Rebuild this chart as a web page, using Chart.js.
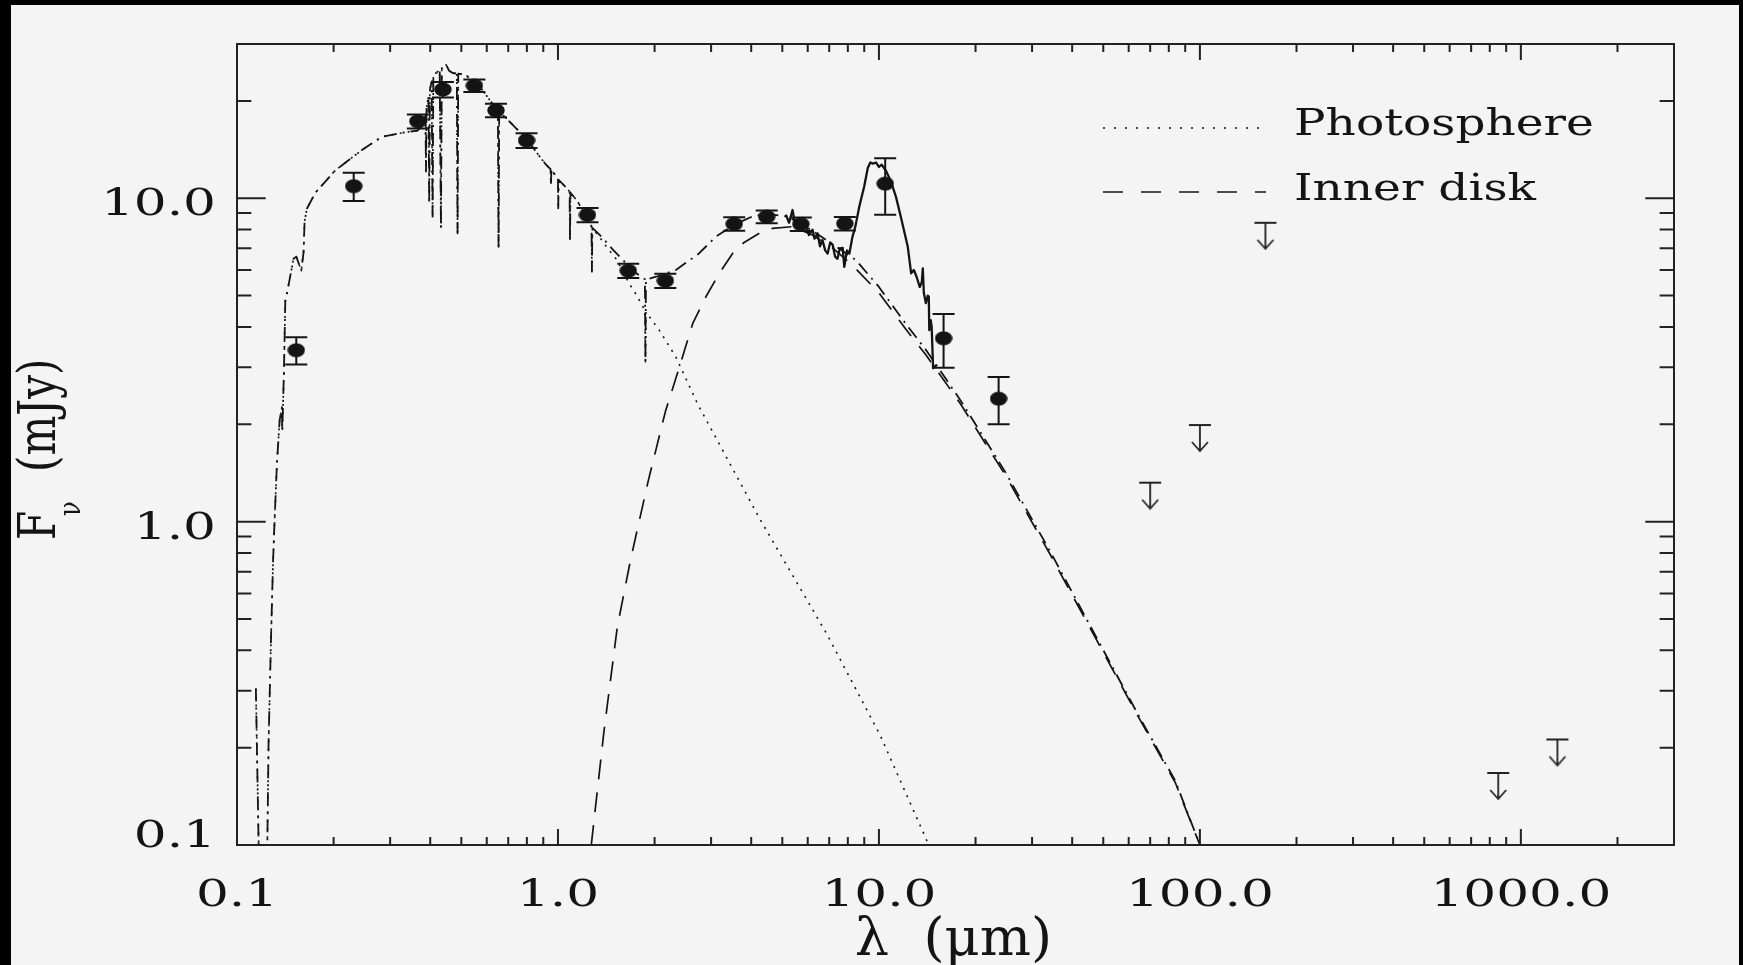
<!DOCTYPE html>
<html>
<head>
<meta charset="utf-8">
<title>Spectral energy distribution</title>
<script src="https://cdn.jsdelivr.net/npm/chart.js@4.4.1/dist/chart.umd.min.js"></script>
<style>
  html, body { margin: 0; padding: 0; background: #000; }
  canvas { display: block; }
</style>
</head>
<body>
<canvas id="sed" width="1743" height="965"></canvas>
<script>
// wavelength in micron, flux density in mJy

// stellar photosphere model
const photLam = [0.1145, 0.1168, 0.120, 0.1243, 0.1254, 0.1276, 0.1295, 0.1309, 0.1332, 0.1358, 0.138, 0.1384, 0.140, 0.1414,
  0.1448, 0.150, 0.153, 0.1586, 0.1612, 0.1624, 0.1652, 0.1754, 0.2024, 0.245, 0.283, 0.334, 0.365, 0.375, 0.383,
  0.3865, 0.388, 0.3895, 0.395, 0.397, 0.399, 0.404, 0.4068, 0.409, 0.417, 0.428, 0.432, 0.4345, 0.441, 0.448, 0.458,
  0.470, 0.484, 0.4866, 0.489, 0.517, 0.550, 0.582, 0.625, 0.650, 0.653, 0.656, 0.705, 0.7575, 0.834, 0.875, 0.918,
  0.948, 0.951, 0.954, 0.985, 1.000, 1.002, 1.005, 1.05, 1.087, 1.09, 1.094, 1.15, 1.222, 1.272, 1.276, 1.280,
  1.345, 1.42, 1.516, 1.60, 1.667, 1.75, 1.814, 1.866, 1.873, 1.88, 2.068, 2.33, 2.724, 4.26, 6.9, 10.1, 14.3];
const photFnu = [0.305, 0.10, 0.07, 0.10, 0.205, 0.43, 0.75, 1.0, 1.52, 2.06, 2.26, 1.91, 2.87, 4.8,
  5.4, 6.5, 6.6, 5.98, 6.8, 8.5, 9.3, 10.4, 12.2, 14.1, 15.5, 16.0, 16.2, 16.6, 17.8,
  18.3, 12.1, 19.0, 20.6, 9.65, 21.6, 23.0, 8.77, 23.8, 24.4, 25.0, 8.07, 25.2, 25.6, 25.9, 24.8,
  24.4, 24.3, 7.79, 24.3, 24.1, 22.5, 21.6, 19.6, 18.8, 7.08, 18.6, 17.3, 16.1, 14.4, 13.5, 12.7,
  12.3, 11.0, 12.3, 11.7, 11.5, 9.31, 11.4, 10.9, 10.5, 7.43, 10.4, 9.8, 8.77, 8.2, 5.93, 8.1,
  7.6, 7.05, 6.5, 5.9, 5.45, 5.05, 4.73, 4.5, 3.12, 4.45, 3.91, 3.23, 2.31, 1.017, 0.447, 0.218, 0.1];

// inner disk emission
const diskLam = [1.27, 1.39, 1.53, 1.685, 1.915, 2.164, 2.39, 2.63, 2.89, 3.18, 3.5, 3.8, 4.24, 4.66, 5.38, 6.2, 7.2,
  8.28, 10.0, 12.1, 14.0, 16.1, 17.96, 24.8, 34.2, 47.1, 64.9, 83.8, 100];
const diskFnu = [0.1, 0.2235, 0.471, 0.766, 1.349, 2.2, 3.01, 4.10, 4.96, 5.86, 6.75, 7.3, 7.8, 8.07, 8.17, 7.7, 7.0,
  6.2, 5.1, 3.95, 3.28, 2.7, 2.31, 1.39, 0.79, 0.44, 0.245, 0.156, 0.1];

// photosphere + disk (same as photosphere below 1.28 micron)
const totalLam = [0.1145, 0.1168, 0.120, 0.1243, 0.1254, 0.1276, 0.1295, 0.1309, 0.1332, 0.1358, 0.138, 0.1384, 0.140, 0.1414,
  0.1448, 0.150, 0.153, 0.1586, 0.1612, 0.1624, 0.1652, 0.1754, 0.2024, 0.245, 0.283, 0.334, 0.365, 0.375, 0.383,
  0.3865, 0.388, 0.3895, 0.395, 0.397, 0.399, 0.404, 0.4068, 0.409, 0.417, 0.428, 0.432, 0.4345, 0.441, 0.448, 0.458,
  0.470, 0.484, 0.4866, 0.489, 0.517, 0.550, 0.582, 0.625, 0.650, 0.653, 0.656, 0.705, 0.7575, 0.834, 0.875, 0.918,
  0.948, 0.951, 0.954, 0.985, 1.000, 1.002, 1.005, 1.05, 1.087, 1.09, 1.094, 1.15, 1.222, 1.272, 1.276, 1.280,
  1.377, 1.48, 1.628, 1.72, 1.814, 1.866, 1.873, 1.88, 2.02, 2.33, 2.75, 3.1, 3.55, 4.0, 4.45, 5.13, 5.6, 6.5, 7.5,
  8.48, 10.0, 12.1, 14.0, 16.1, 17.96, 24.8, 34.2, 47.1, 64.9, 83.8, 100];
const totalFnu = [0.305, 0.10, 0.07, 0.10, 0.205, 0.43, 0.75, 1.0, 1.52, 2.06, 2.26, 1.91, 2.87, 4.8,
  5.4, 6.5, 6.6, 5.98, 6.8, 8.5, 9.3, 10.4, 12.2, 14.1, 15.5, 16.0, 16.2, 16.6, 17.8,
  18.3, 12.1, 19.0, 20.6, 9.65, 21.6, 23.0, 8.77, 23.8, 24.4, 25.0, 8.07, 25.2, 25.6, 25.9, 24.8,
  24.4, 24.3, 7.79, 24.3, 24.1, 22.5, 21.6, 19.6, 18.8, 7.08, 18.6, 17.3, 16.1, 14.4, 13.5, 12.7,
  12.3, 11.0, 12.3, 11.7, 11.5, 9.31, 11.4, 10.9, 10.5, 7.43, 10.4, 9.8, 8.77, 8.2, 5.93, 8.1,
  7.55, 6.95, 6.3, 5.95, 5.72, 5.62, 3.12, 5.6, 5.72, 6.0, 6.75, 7.6, 8.3, 8.75, 8.95, 8.8, 8.45, 7.7, 7.0,
  6.44, 5.32, 4.1, 3.4, 2.78, 2.37, 1.42, 0.807, 0.447, 0.248, 0.158, 0.1];

// IRS spectrum
const irsLam = [5.13, 5.25, 5.38, 5.5, 5.65, 5.78, 5.92, 6.05, 6.21, 6.3, 6.44, 6.55, 6.67, 6.8, 6.92, 7.05, 7.18, 7.3,
  7.43, 7.55, 7.71, 7.8, 7.95, 8.09, 8.27, 8.45, 8.68, 9.0, 9.23, 9.4, 9.58, 9.8, 10.0, 10.2, 10.5, 10.89, 11.3, 11.7,
  12.3, 12.6, 12.85, 13.1, 13.4, 13.6, 13.7, 13.8, 14.0, 14.2, 14.3, 14.35, 14.5, 14.6, 14.75, 15.1];
const irsFnu = [8.9, 8.4, 9.2, 8.2, 8.0, 8.7, 8.37, 7.7, 8.0, 7.5, 7.79, 7.1, 7.43, 6.9, 6.75, 7.3, 7.17, 6.6,
  6.5, 7.0, 7.02, 6.14, 6.9, 6.75, 7.6, 8.2, 9.4, 10.9, 12.4, 12.9, 12.8, 12.9, 12.5, 12.7, 12.2, 11.3, 10.1, 8.77,
  7.08, 5.86, 6.0, 5.72, 5.32, 5.5, 6.07, 5.1, 4.74, 5.0, 4.96, 3.91, 4.2, 4.0, 2.98, 3.05];

// photometry with 1-sigma errors
const obsLam = [0.153, 0.231, 0.366, 0.438, 0.549, 0.641, 0.798, 1.236, 1.656, 2.16, 3.54, 4.47, 5.71, 7.83, 10.46, 15.9, 23.6];
const obsFnu = [3.39, 10.9, 17.3, 21.7, 22.3, 18.7, 15.1, 8.88, 5.97, 5.56, 8.33, 8.77, 8.32, 8.35, 11.1, 3.69, 2.40];
const obsErr = [0.33, 1.1, 0.85, 1.2, 1.0, 0.9, 0.8, 0.45, 0.3, 0.28, 0.4, 0.4, 0.4, 0.4, 2.2, 0.7, 0.4];

// upper limits
const limLam = [70, 100, 160, 850, 1300];
const limFnu = [1.32, 1.99, 8.4, 0.167, 0.212];

// axes
const xRange = [0.1, 3000];
const yRange = [0.1, 30];
const xLabelled = [0.1, 1, 10, 100, 1000];
const xTickText = ["0.1", "1.0", "10.0", "100.0", "1000.0"];
const yLabelled = [0.1, 1, 10];
const yTickText = ["0.1", "1.0", "10.0"];

const INK = "#141414";
const SERIF = "'DejaVu Serif', 'Liberation Serif', serif";

function pts(xs, ys) {
  return xs.map((x, i) => ({ x: x, y: ys[i] }));
}

function decadeTicks(min, max) {
  const out = [];
  for (let e = Math.floor(Math.log10(min)); e <= Math.ceil(Math.log10(max)); e++) {
    for (let m = 1; m <= 9; m++) {
      const v = m * Math.pow(10, e);
      if (v >= min * 0.999 && v <= max * 1.001) out.push({ v: v, major: m === 1 });
    }
  }
  return out;
}

function dotMark() {
  const c = document.createElement("canvas");
  c.width = 18;
  c.height = 15;
  const g = c.getContext("2d");
  g.fillStyle = INK;
  g.beginPath();
  g.ellipse(9, 7.5, 8.7, 7, 0, 0, Math.PI * 2);
  g.fill();
  return c;
}

// bar on the value, arrow pointing down
function limitMark() {
  const c = document.createElement("canvas");
  c.width = 24;
  c.height = 56;
  const g = c.getContext("2d");
  g.strokeStyle = "#222";
  g.lineWidth = 1.8;
  g.beginPath();
  g.moveTo(1, 28); g.lineTo(23, 28);
  g.moveTo(12, 28); g.lineTo(12, 54);
  g.moveTo(4, 45); g.lineTo(12, 54); g.lineTo(20, 45);
  g.stroke();
  return c;
}

function stretchText(ctx, str, x, y, size, sx, align) {
  ctx.save();
  ctx.translate(x, y);
  ctx.scale(sx, 1);
  ctx.font = size + "px " + SERIF;
  ctx.textAlign = align;
  ctx.textBaseline = "alphabetic";
  ctx.fillStyle = INK;
  ctx.fillText(str, 0, 0);
  ctx.restore();
}

const paper = {
  id: "paper",
  beforeDraw(chart) {
    const c = chart.ctx;
    c.save();
    c.fillStyle = "#000";
    c.fillRect(0, 0, chart.width, chart.height);
    c.fillStyle = "#f4f4f4";
    c.fillRect(11, 5, 1728, 960);
    c.restore();
  }
};

const errorBars = {
  id: "errorBars",
  afterDatasetsDraw(chart) {
    const c = chart.ctx;
    const xs = chart.scales.x;
    const ys = chart.scales.y;
    c.save();
    c.strokeStyle = INK;
    c.lineWidth = 2;
    obsLam.forEach((lam, i) => {
      const px = xs.getPixelForValue(lam);
      const top = ys.getPixelForValue(obsFnu[i] + obsErr[i]);
      const bot = ys.getPixelForValue(obsFnu[i] - obsErr[i]);
      c.beginPath();
      c.moveTo(px, top); c.lineTo(px, bot);
      c.moveTo(px - 11, top); c.lineTo(px + 11, top);
      c.moveTo(px - 11, bot); c.lineTo(px + 11, bot);
      c.stroke();
    });
    c.restore();
  }
};

const frame = {
  id: "frame",
  afterDraw(chart) {
    const c = chart.ctx;
    const a = chart.chartArea;
    const xs = chart.scales.x;
    const ys = chart.scales.y;
    const w = a.right - a.left;
    const h = a.bottom - a.top;

    c.save();
    c.strokeStyle = "#222";
    c.lineWidth = 2;
    c.strokeRect(a.left, a.top, w, h);

    // inward ticks on all four sides, major = 2% of the opposite size
    c.beginPath();
    decadeTicks(xRange[0], xRange[1]).forEach(t => {
      const px = xs.getPixelForValue(t.v);
      const len = (t.major ? 0.02 : 0.01) * h;
      c.moveTo(px, a.bottom); c.lineTo(px, a.bottom - len);
      c.moveTo(px, a.top); c.lineTo(px, a.top + len);
    });
    decadeTicks(yRange[0], yRange[1]).forEach(t => {
      const py = ys.getPixelForValue(t.v);
      const len = (t.major ? 0.02 : 0.01) * w;
      c.moveTo(a.left, py); c.lineTo(a.left + len, py);
      c.moveTo(a.right, py); c.lineTo(a.right - len, py);
    });
    c.stroke();
    c.restore();

    // tick labels
    xLabelled.forEach((v, i) => {
      stretchText(c, xTickText[i], xs.getPixelForValue(v), a.bottom + 61, 38, 1.36, "center");
    });
    yLabelled.forEach((v, i) => {
      const base = Math.min(ys.getPixelForValue(v) + 17, a.bottom + 2);
      stretchText(c, yTickText[i], a.left - 21, base, 38, 1.36, "right");
    });

    // x title
    stretchText(c, "\u03bb  (\u03bcm)", (a.left + a.right) / 2 - 2, 955, 52, 1.04, "center");

    // y title, read bottom to top
    const k = 0.81;
    c.save();
    c.translate(55, 0);
    c.rotate(-Math.PI / 2);
    c.scale(k, 1);
    c.fillStyle = INK;
    c.textAlign = "left";
    c.textBaseline = "alphabetic";
    c.font = "52px " + SERIF;
    c.fillText("F", -540 / k, 0);
    c.fillText("(mJy)", -472 / k, 0);
    c.font = "30px " + SERIF;
    c.fillText("\u03bd", -516 / k, 25);
    c.restore();

    // legend
    c.save();
    c.strokeStyle = INK;
    c.lineWidth = 1.6;
    c.setLineDash([2, 9]);
    c.beginPath();
    c.moveTo(1103, 128); c.lineTo(1260, 128);
    c.stroke();
    c.setLineDash([20, 18]);
    c.beginPath();
    c.moveTo(1103, 192); c.lineTo(1266, 192);
    c.stroke();
    c.restore();
    stretchText(c, "Photosphere", 1294, 135, 37, 1.27, "left");
    stretchText(c, "Inner disk", 1294, 200, 37, 1.27, "left");
  }
};

const lineBase = {
  showLine: true,
  pointRadius: 0,
  borderColor: INK,
  borderJoinStyle: "round",
  tension: 0,
  clip: 1
};

new Chart(document.getElementById("sed"), {
  type: "scatter",
  data: {
    datasets: [
      Object.assign({}, lineBase, {
        label: "Photosphere",
        data: pts(photLam, photFnu),
        borderWidth: 1.6,
        borderDash: [2, 6]
      }),
      Object.assign({}, lineBase, {
        label: "Inner disk",
        data: pts(diskLam, diskFnu),
        borderWidth: 1.7,
        borderDash: [20, 13]
      }),
      Object.assign({}, lineBase, {
        label: "Total",
        data: pts(totalLam, totalFnu),
        borderWidth: 1.8,
        borderDash: [13, 6, 2, 6]
      }),
      Object.assign({}, lineBase, {
        label: "IRS",
        data: pts(irsLam, irsFnu),
        borderWidth: 2.3
      }),
      {
        label: "Photometry",
        data: pts(obsLam, obsFnu),
        pointStyle: dotMark(),
        pointRadius: 8,
        showLine: false
      },
      {
        label: "Upper limits",
        data: pts(limLam, limFnu),
        pointStyle: limitMark(),
        pointRadius: 8,
        showLine: false
      }
    ]
  },
  options: {
    responsive: false,
    devicePixelRatio: 1,
    animation: false,
    events: [],
    layout: { padding: { left: 237, top: 44, right: 69, bottom: 120 } },
    scales: {
      x: { type: "logarithmic", min: xRange[0], max: xRange[1], display: false },
      y: { type: "logarithmic", min: yRange[0], max: yRange[1], display: false }
    },
    plugins: {
      legend: { display: false },
      tooltip: { enabled: false }
    }
  },
  plugins: [paper, errorBars, frame]
});
</script>
</body>
</html>
